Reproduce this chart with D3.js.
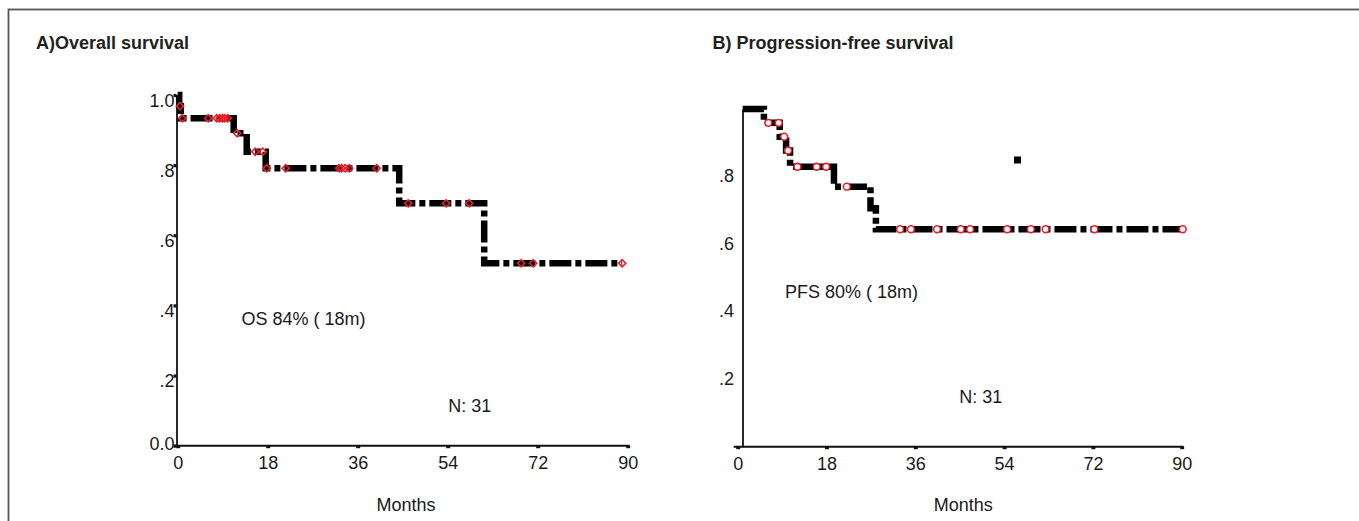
<!DOCTYPE html>
<html>
<head>
<meta charset="utf-8">
<script src="https://cdn.jsdelivr.net/npm/d3@7"></script>
<style>
  body { margin: 0; background: #fff; }
  svg { display: block; }
  .tick text { font-family: "Liberation Sans", Arial, sans-serif; font-size: 18px; fill: #1a1a1a; }
  .lbl { font-family: "Liberation Sans", Arial, sans-serif; font-size: 18px; fill: #1a1a1a; }
  .ttl { font-family: "Liberation Sans", Arial, sans-serif; font-weight: bold; font-size: 18px; fill: #231f20; }
</style>
</head>
<body>
<svg width="1359" height="521"></svg>
<script>
// x ticks shared by both panels
const monthTicks = [0, 18, 36, 54, 72, 90];

// A) overall survival: step times, survival after each step, censored times
const osTime = [0, 0.3, 0.6, 11.2, 13.8, 17.6, 44.3, 61.3];
const osSurv = [1.0, 0.968, 0.934, 0.891, 0.838, 0.791, 0.691, 0.520];
const osEnd = 88.9;
const osCensor = [0.46, 0.92, 6.1, 7.8, 8.4, 9.0, 9.4, 10.0, 11.9, 15.5, 17.0, 17.8, 21.6,
                  32.3, 32.8, 33.5, 34.3, 39.8, 46.1, 53.7, 58.3, 68.7, 71.1, 88.9];
const osYTicks = [0, 0.2, 0.4, 0.6, 0.8, 1.0];
const osYLabels = ["0.0", ".2", ".4", ".6", ".8", "1.0"];

// B) progression-free survival
const pfsTime = [0, 4.3, 7.5, 8.8, 9.6, 18.5, 25.9, 27.0];
const pfsSurv = [1.0, 0.959, 0.918, 0.877, 0.829, 0.770, 0.706, 0.644];
const pfsEnd = 89.2;
const pfsCensor = [5.2, 7.3, 8.4, 9.2, 11.1, 15.0, 16.9, 21.1, 31.9, 34.1, 39.4, 44.2, 46.1,
                   53.6, 58.4, 61.4, 71.3, 89.2];
const pfsStray = [[55.7, 0.849]];
const pfsYTicks = [0.2, 0.4, 0.6, 0.8];
const pfsYLabels = [".2", ".4", ".6", ".8"];

const red = "#e8202a";
const svg = d3.select("svg");

// outer frame
svg.append("rect").attr("x", 8.5).attr("y", 9.5).attr("width", 1400).attr("height", 600)
    .attr("fill", "none").attr("stroke", "#555").attr("stroke-width", 1.8);

function survAt(times, surv, t) {
    let s = surv[0];
    times.forEach((tt, i) => { if (tt <= t) s = surv[i]; });
    return s;
}

function panel(opt) {
    const g = svg.append("g");
    const x = d3.scaleLinear().domain([0, 90]).range(opt.xRange);
    const xc = d3.scaleLinear().domain([0, 90]).range(opt.xCurve);
    const y = d3.scaleLinear().domain([0, 1]).range(opt.yRange);

    g.append("text").attr("class", "ttl").attr("x", opt.titleX).attr("y", 49).text(opt.title);

    // x axis
    const xa = g.append("g").attr("transform", `translate(0,${opt.yRange[0]})`)
        .call(d3.axisBottom(x).tickValues(monthTicks).tickSize(2.5).tickSizeOuter(0).tickPadding(8.3));
    xa.select(".domain").attr("stroke", "#111").attr("stroke-width", 2)
        .attr("d", `M${opt.xRange[0] - 4},0H${opt.xRange[1] + 2}`);
    xa.selectAll(".tick line").attr("stroke", "#111").attr("stroke-width", 4);

    // y axis
    const ya = g.append("g").attr("transform", `translate(${opt.yAxisX},0)`)
        .call(d3.axisLeft(y).tickValues(opt.yTicks).tickSize(opt.yTickSize).tickSizeOuter(0)
            .tickFormat((d, i) => opt.yLabels[i]));
    ya.select(".domain").attr("stroke", "#111").attr("stroke-width", 1.8);
    ya.selectAll(".tick line").attr("stroke", "#111").attr("stroke-width", 3.2);
    ya.selectAll(".tick text").attr("x", opt.yLabelX).attr("dy", opt.yLabelDy);

    // axis title + annotations
    g.append("text").attr("class", "lbl").attr("x", opt.monthsX).attr("y", 511)
        .attr("text-anchor", "middle").text("Months");
    g.append("text").attr("class", "lbl").attr("x", opt.noteX).attr("y", opt.noteY).text(opt.note);
    g.append("text").attr("class", "lbl").attr("x", opt.nX).attr("y", opt.nY).text("N: 31");

    // survival curve
    const pts = opt.times.map((t, i) => [t, opt.surv[i]]).concat([[opt.end, opt.surv[opt.surv.length - 1]]]);
    const line = d3.line().x(d => xc(d[0])).y(d => y(d[1])).curve(d3.curveStepAfter);
    g.append("path").datum(pts).attr("d", line).attr("fill", "none").attr("stroke", "#000")
        .attr("stroke-width", 6.5).attr("stroke-dasharray", "22,4,6,4").attr("stroke-linejoin", "miter");

    if (opt.stray) {
        g.selectAll(".stray").data(opt.stray).enter().append("rect")
            .attr("x", d => xc(d[0]) - 3.5).attr("y", d => y(d[1]) - 3.5)
            .attr("width", 7).attr("height", 7).attr("fill", "#000");
    }

    // censor marks
    const cg = g.append("g");
    if (opt.marker === "diamond") {
        cg.selectAll("path").data(opt.censor).enter().append("path")
            .attr("d", d3.symbol().type(d3.symbolSquare).size(26))
            .attr("transform", d => `translate(${xc(d)},${y(survAt(opt.times, opt.surv, d))}) rotate(45)`)
            .attr("fill", "none").attr("stroke", red).attr("stroke-width", 1.6);
    } else {
        cg.selectAll("circle").data(opt.censor).enter().append("circle")
            .attr("cx", d => xc(d)).attr("cy", d => y(survAt(opt.times, opt.surv, d)))
            .attr("r", 3.4).attr("fill", "#fff").attr("stroke", red).attr("stroke-width", 1.6);
    }
}

panel({
    title: "A)Overall survival", titleX: 36,
    xRange: [177.7, 627.7], xCurve: [177.7, 627.7], yRange: [445.7, 95], yAxisX: 176.5,
    yTicks: osYTicks, yLabels: osYLabels, yTickSize: 3, yLabelX: -2,
    yLabelDy: d => d === 0 ? 4 : 11,
    monthsX: 406, note: "OS 84% ( 18m)", noteX: 241.5, noteY: 325, nX: 448.3, nY: 411.7,
    times: osTime, surv: osSurv, end: osEnd, censor: osCensor, marker: "diamond"
});

panel({
    title: "B) Progression-free survival", titleX: 712.5,
    xRange: [737.7, 1181.7], xCurve: [742.7, 1186.7], yRange: [446.7, 109], yAxisX: 742.5,
    yTicks: pfsYTicks, yLabels: pfsYLabels, yTickSize: 0, yLabelX: -8.5,
    yLabelDy: () => 5,
    monthsX: 963.3, note: "PFS 80% ( 18m)", noteX: 785, noteY: 297.7, nX: 959.3, nY: 403.3,
    times: pfsTime, surv: pfsSurv, end: pfsEnd, censor: pfsCensor, marker: "circle", stray: pfsStray
});
</script>
</body>
</html>
